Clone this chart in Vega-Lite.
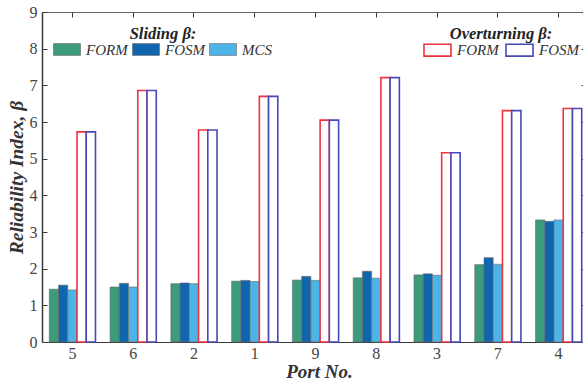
{
  "$schema": "https://vega.github.io/schema/vega-lite/v6.json",
  "autosize": "none",
  "width": 541,
  "height": 330,
  "padding": {"left": 42, "top": 12, "right": 0, "bottom": 42},
  "background": "white",
  "config": {
    "view": {"stroke": null},
    "font": "Liberation Serif",
    "axis": {"grid": false, "domainColor": "#3a3a3a", "tickColor": "#3a3a3a", "labelColor": "#444", "titleColor": "#333", "labelFont": "Liberation Serif", "titleFont": "Liberation Serif", "labelFontSize": 15},
    "legend": {"labelFont": "Liberation Serif", "titleFont": "Liberation Serif"}
  },
  "data": {
    "values": [
      {"port": "5", "mode": "Sliding", "method": "FORM", "bar": "S-FORM", "beta": 1.44},
      {"port": "5", "mode": "Sliding", "method": "FOSM", "bar": "S-FOSM", "beta": 1.55},
      {"port": "5", "mode": "Sliding", "method": "MCS", "bar": "S-MCS", "beta": 1.42},
      {"port": "5", "mode": "Overturning", "method": "FORM", "bar": "O-FORM", "beta": 5.73},
      {"port": "5", "mode": "Overturning", "method": "FOSM", "bar": "O-FOSM", "beta": 5.73},
      {"port": "6", "mode": "Sliding", "method": "FORM", "bar": "S-FORM", "beta": 1.50},
      {"port": "6", "mode": "Sliding", "method": "FOSM", "bar": "S-FOSM", "beta": 1.60},
      {"port": "6", "mode": "Sliding", "method": "MCS", "bar": "S-MCS", "beta": 1.50},
      {"port": "6", "mode": "Overturning", "method": "FORM", "bar": "O-FORM", "beta": 6.86},
      {"port": "6", "mode": "Overturning", "method": "FOSM", "bar": "O-FOSM", "beta": 6.86},
      {"port": "2", "mode": "Sliding", "method": "FORM", "bar": "S-FORM", "beta": 1.59},
      {"port": "2", "mode": "Sliding", "method": "FOSM", "bar": "S-FOSM", "beta": 1.61},
      {"port": "2", "mode": "Sliding", "method": "MCS", "bar": "S-MCS", "beta": 1.59},
      {"port": "2", "mode": "Overturning", "method": "FORM", "bar": "O-FORM", "beta": 5.78},
      {"port": "2", "mode": "Overturning", "method": "FOSM", "bar": "O-FOSM", "beta": 5.78},
      {"port": "1", "mode": "Sliding", "method": "FORM", "bar": "S-FORM", "beta": 1.66},
      {"port": "1", "mode": "Sliding", "method": "FOSM", "bar": "S-FOSM", "beta": 1.68},
      {"port": "1", "mode": "Sliding", "method": "MCS", "bar": "S-MCS", "beta": 1.65},
      {"port": "1", "mode": "Overturning", "method": "FORM", "bar": "O-FORM", "beta": 6.70},
      {"port": "1", "mode": "Overturning", "method": "FOSM", "bar": "O-FOSM", "beta": 6.70},
      {"port": "9", "mode": "Sliding", "method": "FORM", "bar": "S-FORM", "beta": 1.69},
      {"port": "9", "mode": "Sliding", "method": "FOSM", "bar": "S-FOSM", "beta": 1.79},
      {"port": "9", "mode": "Sliding", "method": "MCS", "bar": "S-MCS", "beta": 1.68},
      {"port": "9", "mode": "Overturning", "method": "FORM", "bar": "O-FORM", "beta": 6.05},
      {"port": "9", "mode": "Overturning", "method": "FOSM", "bar": "O-FOSM", "beta": 6.05},
      {"port": "8", "mode": "Sliding", "method": "FORM", "bar": "S-FORM", "beta": 1.75},
      {"port": "8", "mode": "Sliding", "method": "FOSM", "bar": "S-FOSM", "beta": 1.93},
      {"port": "8", "mode": "Sliding", "method": "MCS", "bar": "S-MCS", "beta": 1.74},
      {"port": "8", "mode": "Overturning", "method": "FORM", "bar": "O-FORM", "beta": 7.21},
      {"port": "8", "mode": "Overturning", "method": "FOSM", "bar": "O-FOSM", "beta": 7.21},
      {"port": "3", "mode": "Sliding", "method": "FORM", "bar": "S-FORM", "beta": 1.83},
      {"port": "3", "mode": "Sliding", "method": "FOSM", "bar": "S-FOSM", "beta": 1.86},
      {"port": "3", "mode": "Sliding", "method": "MCS", "bar": "S-MCS", "beta": 1.82},
      {"port": "3", "mode": "Overturning", "method": "FORM", "bar": "O-FORM", "beta": 5.16},
      {"port": "3", "mode": "Overturning", "method": "FOSM", "bar": "O-FOSM", "beta": 5.16},
      {"port": "7", "mode": "Sliding", "method": "FORM", "bar": "S-FORM", "beta": 2.11},
      {"port": "7", "mode": "Sliding", "method": "FOSM", "bar": "S-FOSM", "beta": 2.30},
      {"port": "7", "mode": "Sliding", "method": "MCS", "bar": "S-MCS", "beta": 2.12},
      {"port": "7", "mode": "Overturning", "method": "FORM", "bar": "O-FORM", "beta": 6.31},
      {"port": "7", "mode": "Overturning", "method": "FOSM", "bar": "O-FOSM", "beta": 6.31},
      {"port": "4", "mode": "Sliding", "method": "FORM", "bar": "S-FORM", "beta": 3.33},
      {"port": "4", "mode": "Sliding", "method": "FOSM", "bar": "S-FOSM", "beta": 3.29},
      {"port": "4", "mode": "Sliding", "method": "MCS", "bar": "S-MCS", "beta": 3.33},
      {"port": "4", "mode": "Overturning", "method": "FORM", "bar": "O-FORM", "beta": 6.37},
      {"port": "4", "mode": "Overturning", "method": "FOSM", "bar": "O-FOSM", "beta": 6.37}
    ]
  },
  "encoding": {
    "x": {
      "field": "port", "type": "nominal",
      "scale": {"type": "band", "domain": ["5","6","2","1","9","8","3","7","4"], "range": [0, 547], "paddingInner": 0.24, "paddingOuter": 0.12}
    },
    "xOffset": {
      "field": "bar", "type": "nominal",
      "scale": {"domain": ["S-FORM","S-FOSM","S-MCS","O-FORM","O-FOSM"], "paddingInner": 0, "paddingOuter": 0}
    },
    "y": {
      "field": "beta", "type": "quantitative",
      "scale": {"domain": [0, 9], "nice": false, "zero": true}
    }
  },
  "layer": [
    {
      "transform": [{"filter": "datum.mode === 'Sliding'"}],
      "mark": {"type": "bar", "stroke": "#6a6a6a", "strokeWidth": 0.6},
      "encoding": {
        "x": {
          "field": "port", "type": "nominal",
          "axis": {"orient": "bottom", "title": "Port No.", "titleFontSize": 19, "titleFontWeight": "bold", "titleFontStyle": "italic", "titlePadding": 1, "titleX": 277, "titleAlign": "center", "labelAngle": 0, "labelPadding": 8, "tickSize": -5, "domainWidth": 1.2, "labelFontSize": 16}
        },
        "y": {
          "field": "beta", "type": "quantitative",
          "axis": {"orient": "left", "title": "Reliability Index, β", "titleFontSize": 19.5, "titleFontWeight": "bold", "titleFontStyle": "italic", "titlePadding": 3, "values": [0,1,2,3,4,5,6,7,8,9], "labelPadding": 10, "tickSize": -5, "domainWidth": 1.5, "labelFontSize": 16}
        },
        "fill": {
          "field": "method", "type": "nominal",
          "scale": {"domain": ["FORM","FOSM","MCS"], "range": ["#3b9b7b", "#1065af", "#4db4e7"]},
          "legend": {
            "title": "Sliding β:", "orient": "none", "direction": "horizontal",
            "legendX": 11, "legendY": 14, "padding": 0,
            "titleFontSize": 16.5, "titleFontWeight": "bold", "titleFontStyle": "italic", "titleColor": "#222", "titleAnchor": "middle", "titlePadding": -7,
            "labelFontSize": 15, "labelFontStyle": "italic", "labelColor": "#333", "labelOffset": 5, "columnPadding": 3,
            "symbolType": "M-1,-0.44H1V0.44H-1Z", "symbolSize": 729, "symbolStrokeColor": "#666", "symbolStrokeWidth": 0.6, "symbolOpacity": 1
          }
        }
      }
    },
    {
      "transform": [{"filter": "datum.mode === 'Overturning'"}],
      "mark": {"type": "bar", "fill": "white", "strokeWidth": 1.6},
      "encoding": {
        "x": {
          "field": "port", "type": "nominal",
          "axis": {"orient": "top", "title": null, "labels": false, "tickSize": -5, "domainColor": "#666"}
        },
        "y": {
          "field": "beta", "type": "quantitative",
          "axis": {"orient": "right", "title": null, "labels": false, "values": [0,1,2,3,4,5,6,7,8,9], "tickSize": -5, "offset": 3}
        },
        "stroke": {
          "field": "method", "type": "nominal",
          "scale": {"domain": ["FORM","FOSM"], "range": ["#ee3440", "#4848b8"]},
          "legend": {
            "title": "Overturning β:", "orient": "none", "direction": "horizontal",
            "legendX": 381, "legendY": 14, "padding": 0,
            "titleFontSize": 16.5, "titleFontWeight": "bold", "titleFontStyle": "italic", "titleColor": "#222", "titleAnchor": "middle", "titlePadding": -7,
            "labelFontSize": 15, "labelFontStyle": "italic", "labelColor": "#333", "labelOffset": 5, "columnPadding": 3,
            "symbolType": "M-1,-0.44H1V0.44H-1Z", "symbolSize": 729, "symbolFillColor": "white", "symbolStrokeWidth": 1.6, "symbolOpacity": 1
          }
        }
      }
    }
  ],
  "resolve": {"axis": {"x": "independent", "y": "independent"}}
}
